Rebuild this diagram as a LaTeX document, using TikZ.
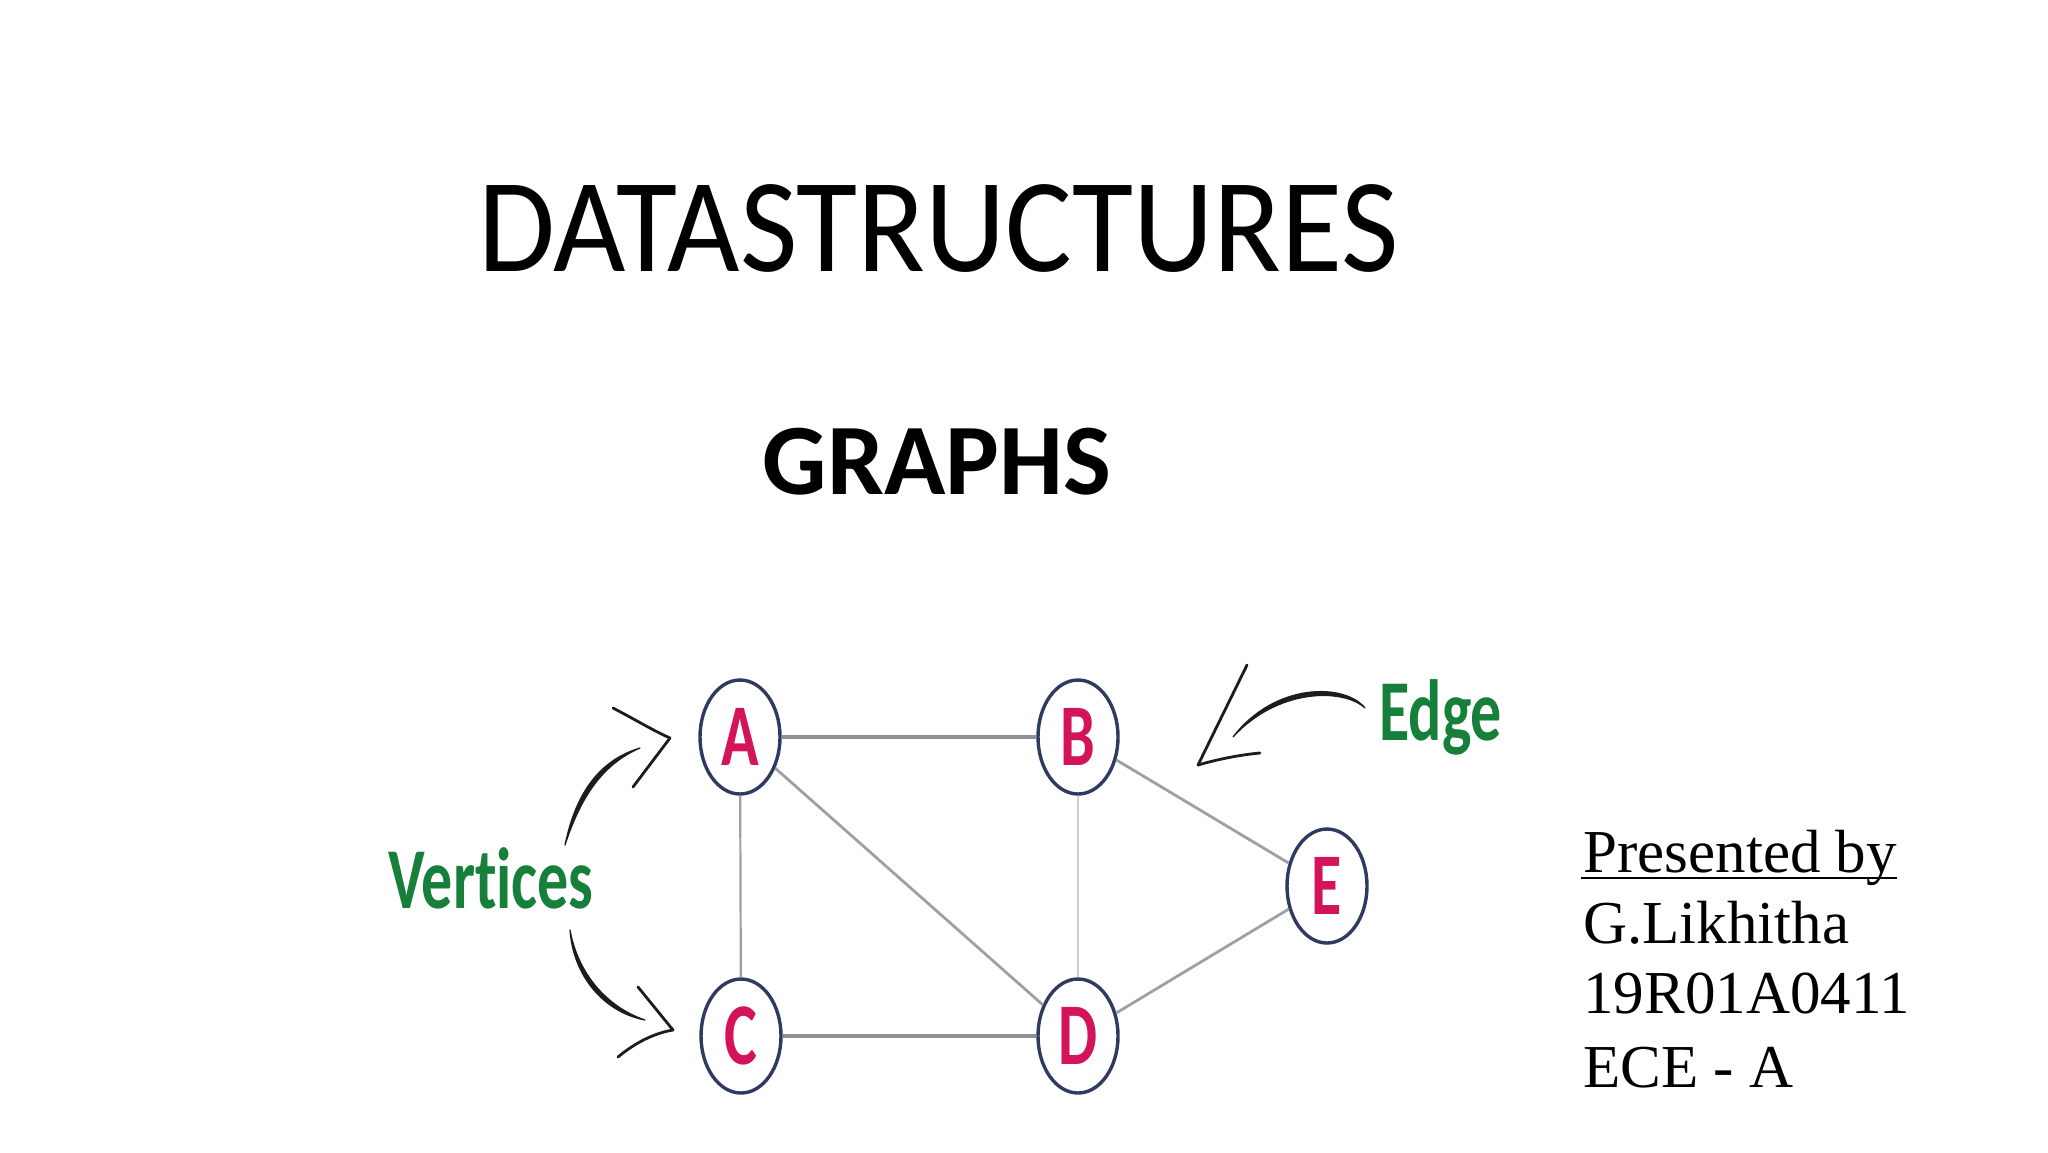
\documentclass[tikz,border=0pt]{standalone}
\usepackage{fontspec}
\setmainfont{Carlito}[Ligatures=NoCommon]
\newfontfamily\timesf{Liberation Serif}
\usetikzlibrary{shapes.geometric}
\definecolor{vgreen}{HTML}{16803A}
\definecolor{vred}{HTML}{D4145A}
\definecolor{vnavy}{HTML}{2E3A60}
\definecolor{egray}{HTML}{8C9197}
\definecolor{emid}{HTML}{9DA1A7}
\definecolor{elight}{HTML}{CDCFD3}
\definecolor{ink}{HTML}{1C1C1C}
\begin{document}
\begin{tikzpicture}[x=0.5pt,y=-0.5pt,
  vtx/.style={ellipse,draw=vnavy,line width=1.7pt,fill=white,minimum width=40pt,minimum height=57pt,inner sep=0pt,text=vred,font=\fontsize{31}{31}\selectfont\bfseries},
  lab/.style={text=vgreen,font=\fontsize{31}{31}\selectfont\bfseries,inner sep=0pt,anchor=base west},
  heavy/.style={draw=egray,line width=2pt},
  medium/.style={draw=emid,line width=1.4pt},
  thin/.style={draw=emid,line width=1.1pt},
  faint/.style={draw=elight,line width=1pt},
  arm/.style={draw=ink,line width=1.4pt,line cap=round},
  sweep/.style={fill=ink,draw=ink,line width=0.6pt,line join=round,line cap=round},
  pres/.style={anchor=base west,inner sep=0pt,font=\timesf\fontsize{30.5}{36}\selectfont}
]
\useasboundingbox (0,0) rectangle (2048,1152);
\fill[white] (0,0) rectangle (2048,1152);

% titles
\node[anchor=base,inner sep=0pt,font=\fontsize{67}{67}\selectfont] (title) at (939,271) {\scalebox{0.933}[1]{DATASTRUCTURES}};
\node[anchor=base,inner sep=0pt,font=\fontsize{50.6}{50.6}\selectfont\bfseries] (sub) at (937,494) {GRAPHS};

% vertices
\node[vtx] (A) at (740,737) {\scalebox{1}[1.42]{A}};
\node[vtx] (B) at (1078,737) {\scalebox{1}[1.42]{B}};
\node[vtx] (C) at (741,1036) {\scalebox{1}[1.42]{C}};
\node[vtx] (D) at (1078,1036) {\scalebox{1}[1.42]{D}};
\node[vtx] (E) at (1327,886) {\scalebox{1}[1.42]{E}};

% edges
\draw[heavy] (A) -- (B);
\draw[heavy] (C) -- (D);
\draw[thin] (A) -- (C);
\draw[faint] (B) -- (D);
\draw[medium] (A) -- (D);
\draw[medium] (B) -- (E);
\draw[medium] (D) -- (E);

% labels
\node[lab] (vert) at (388,908) {\scalebox{1}[1.40]{Vert\kern0pt ices}};
\node[lab] (edge) at (1379,740) {\scalebox{1}[1.40]{Edge}};

% arrow to A
\coordinate (ua0) at (565,845);
\coordinate (ua1) at (640,748);
\coordinate (uat) at (670,738);
\fill[sweep] (ua0) .. controls (576,792) and (600,760) .. (ua1)
  .. controls (603,764) and (581,796) .. (ua0) -- cycle;
\draw[arm] (613,708) .. controls (636,720) and (654,731) .. (uat);
\draw[arm] (633,787) -- (uat);

% arrow to C
\coordinate (la0) at (570,930);
\coordinate (la1) at (645,1020);
\coordinate (lat) at (673,1030);
\fill[sweep] (la0) .. controls (573,975) and (603,1012) .. (la1)
  .. controls (607,1007) and (578,974) .. (la0) -- cycle;
\draw[arm] (638,987) -- (lat);
\draw[arm] (618,1057) .. controls (636,1042) and (655,1033) .. (lat);

% arrow for edge
\coordinate (ea0) at (1365,708);
\coordinate (ea1) at (1233,737);
\coordinate (eat) at (1198,765);
\fill[sweep] (ea0) .. controls (1345,683) and (1275,682) .. (ea1)
  .. controls (1278,688) and (1343,688) .. (ea0) -- cycle;
\draw[arm] (1247,665) -- (eat);
\draw[arm] (1260,753) .. controls (1238,755) and (1215,760) .. (eat);

% presenter
\node[pres] (p1) at (1583,872) {Presented by};
\node[pres] (p2) at (1583,943) {G.Likhitha};
\node[pres] (p3) at (1583,1013) {19R01A0411};
\node[pres] (p4) at (1583,1087) {ECE - A};
\draw[line width=1.2pt] ([xshift=-1pt,yshift=-3pt]p1.base west) -- ([yshift=-3pt]p1.base east);
\end{tikzpicture}
\end{document}
